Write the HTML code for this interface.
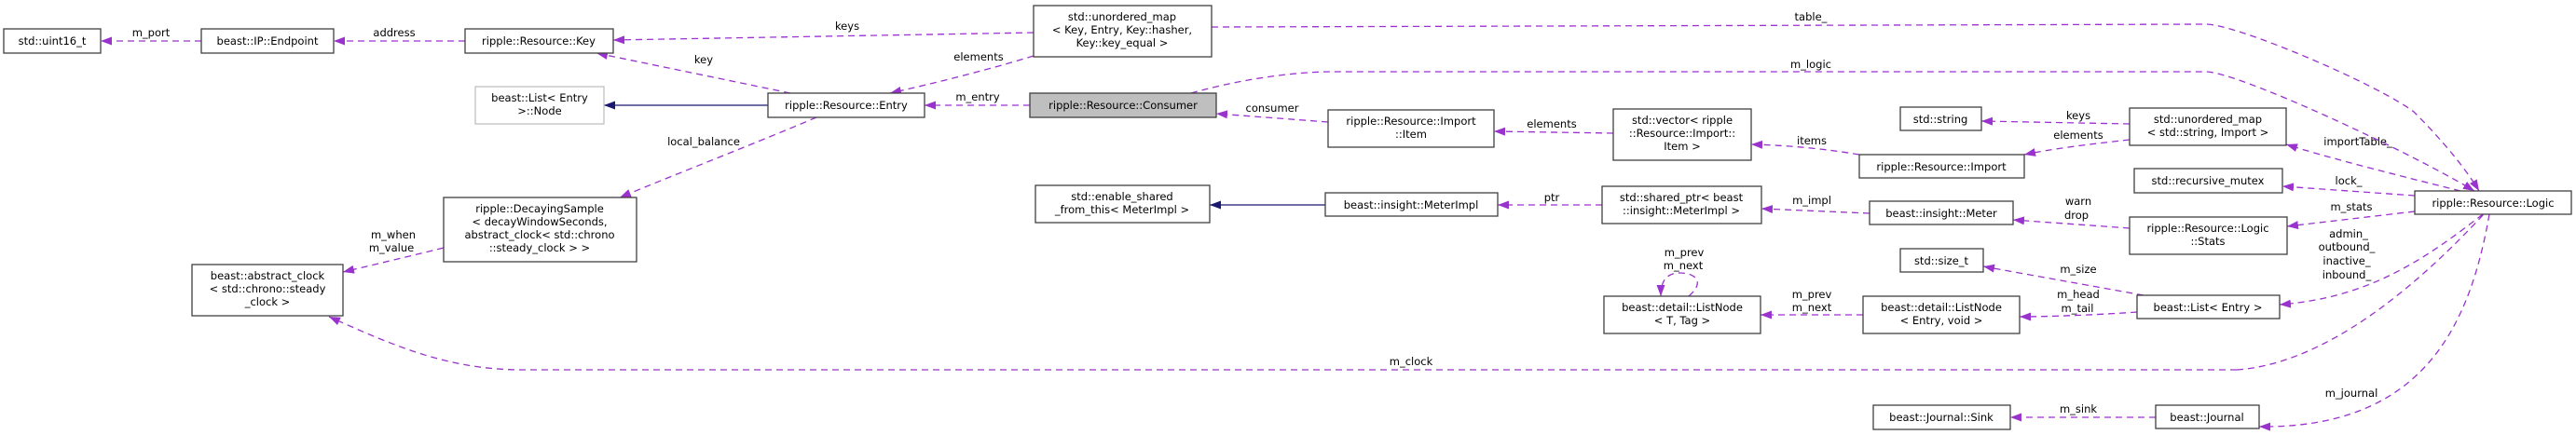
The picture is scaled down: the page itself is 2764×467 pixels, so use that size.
<!DOCTYPE html>
<html><head><meta charset="utf-8"><style>
html,body{margin:0;padding:0;background:#fff}
svg{display:block}
text{font-family:"DejaVu Sans","Liberation Sans",sans-serif;font-size:11.5px;fill:#000}
.n{fill:#fff;stroke:#404040;stroke-width:1.3}
.e{fill:none;stroke:#9a32cd;stroke-width:1.3;stroke-dasharray:7,5}
.b{fill:none;stroke:#191970;stroke-width:1.3}
</style></head><body>
<svg width="2764" height="467" viewBox="0 0 2764 467" xmlns="http://www.w3.org/2000/svg">
<defs>
<marker id="p" markerWidth="12" markerHeight="9" refX="12" refY="4.5" orient="auto" markerUnits="userSpaceOnUse"><path d="M0,0 L12,4.5 L0,9 Z" fill="#9a32cd"/></marker>
<marker id="bl" markerWidth="12" markerHeight="9" refX="12" refY="4.5" orient="auto" markerUnits="userSpaceOnUse"><path d="M0,0 L12,4.5 L0,9 Z" fill="#191970"/></marker>
</defs>

<path class="e" marker-end="url(#p)" d="M216,44 L108,44"/>
<text x="162" y="39" text-anchor="middle">m_port</text>
<path class="e" marker-end="url(#p)" d="M499,44 L358,44"/>
<text x="423" y="39" text-anchor="middle">address</text>
<path class="e" marker-end="url(#p)" d="M1109,35 L658,43"/>
<text x="909" y="32" text-anchor="middle">keys</text>
<path class="e" marker-end="url(#p)" d="M848,100 L640,57"/>
<text x="755" y="68" text-anchor="middle">key</text>
<path class="b" marker-end="url(#bl)" d="M824,113 L648,113"/>
<path class="e" marker-end="url(#p)" d="M876,126 C820,150 730,185 665,212"/>
<text x="755" y="156" text-anchor="middle">local_balance</text>
<path class="e" marker-end="url(#p)" d="M1109,60 C1060,75 1000,90 955,100"/>
<text x="1050" y="65" text-anchor="middle">elements</text>
<path class="e" marker-end="url(#p)" d="M1105,113 L992,113"/>
<text x="1049" y="108" text-anchor="middle">m_entry</text>
<path class="e" marker-end="url(#p)" d="M476,266 C440,275 410,282 368,292"/>
<text x="422" y="256" text-anchor="middle">m_when</text>
<text x="420" y="270" text-anchor="middle">m_value</text>
<path class="e" marker-end="url(#p)" d="M2400,397 C2500,390 2600,300 2665,230 M2400,397 L560,397 C480,397 420,370 353,340"/>
<text x="1514" y="392" text-anchor="middle">m_clock</text>
<path class="e" marker-end="url(#p)" d="M1425,131 L1305,122"/>
<text x="1365" y="120" text-anchor="middle">consumer</text>
<path class="e" marker-end="url(#p)" d="M1731,143 L1603,141"/>
<text x="1665" y="137" text-anchor="middle">elements</text>
<path class="e" marker-end="url(#p)" d="M1995,166 C1960,160 1920,156 1879,155"/>
<text x="1944" y="155" text-anchor="middle">items</text>
<path class="b" marker-end="url(#bl)" d="M1422,220 L1298,220"/>
<path class="e" marker-end="url(#p)" d="M1719,220 L1607,220"/>
<text x="1665" y="216" text-anchor="middle">ptr</text>
<path class="e" marker-end="url(#p)" d="M2006,229 L1890,224"/>
<text x="1944" y="219" text-anchor="middle">m_impl</text>
<path class="e" marker-end="url(#p)" d="M1812,318 C1835,298 1810,290 1795,294 C1785,297 1782,306 1782,318"/>
<text x="1807" y="275" text-anchor="middle">m_prev</text>
<text x="1806" y="289" text-anchor="middle">m_next</text>
<path class="e" marker-end="url(#p)" d="M1999,338 L1889,338"/>
<text x="1944" y="320" text-anchor="middle">m_prev</text>
<text x="1944" y="334" text-anchor="middle">m_next</text>
<path class="e" marker-end="url(#p)" d="M2285,133 L2126,130"/>
<text x="2230" y="128" text-anchor="middle">keys</text>
<path class="e" marker-end="url(#p)" d="M2285,150 C2240,155 2200,160 2172,166"/>
<text x="2230" y="149" text-anchor="middle">elements</text>
<path class="e" marker-end="url(#p)" d="M2640,205 C2580,190 2500,170 2453,155"/>
<text x="2530" y="156" text-anchor="middle">importTable_</text>
<path class="e" marker-end="url(#p)" d="M2591,210 L2449,200"/>
<text x="2520" y="198" text-anchor="middle">lock_</text>
<path class="e" marker-end="url(#p)" d="M2591,227 L2454,243"/>
<text x="2523" y="226" text-anchor="middle">m_stats</text>
<path class="e" marker-end="url(#p)" d="M2285,245 L2160,236"/>
<text x="2230" y="220" text-anchor="middle">warn</text>
<text x="2228" y="235" text-anchor="middle">drop</text>
<path class="e" marker-end="url(#p)" d="M2300,317 L2128,286"/>
<text x="2230" y="293" text-anchor="middle">m_size</text>
<path class="e" marker-end="url(#p)" d="M2293,335 C2250,338 2200,340 2167,340"/>
<text x="2230" y="320" text-anchor="middle">m_head</text>
<text x="2229" y="335" text-anchor="middle">m_tail</text>
<path class="e" marker-end="url(#p)" d="M2664,230 C2600,280 2540,320 2446,327"/>
<text x="2520" y="255" text-anchor="middle">admin_</text>
<text x="2518" y="269" text-anchor="middle">outbound_</text>
<text x="2518" y="284" text-anchor="middle">inactive_</text>
<text x="2518" y="299" text-anchor="middle">inbound_</text>
<path class="e" marker-end="url(#p)" d="M2671,230 C2650,350 2600,460 2424,458"/>
<text x="2523" y="426" text-anchor="middle">m_journal</text>
<path class="e" marker-end="url(#p)" d="M2313,448 L2157,448"/>
<text x="2230" y="443" text-anchor="middle">m_sink</text>
<path class="e" marker-end="url(#p)" d="M1300,29 L2367,26 C2400,26 2550,90 2590,120 C2620,150 2645,180 2660,205"/>
<text x="1943" y="22" text-anchor="middle">table_</text>
<path class="e" marker-end="url(#p)" d="M1278,100 C1320,88 1380,77 1430,77 L2367,77 C2400,77 2580,160 2655,205"/>
<text x="1943" y="73" text-anchor="middle">m_logic</text>

<rect class="n" x="4" y="31" width="104" height="26"/><text x="56" y="48" text-anchor="middle">std::uint16_t</text>
<rect class="n" x="216" y="31" width="142" height="26"/><text x="287" y="48" text-anchor="middle">beast::IP::Endpoint</text>
<rect class="n" x="499" y="31" width="159" height="26"/><text x="578" y="48" text-anchor="middle">ripple::Resource::Key</text>
<rect class="n" style="stroke:#bfbfbf" x="510" y="93" width="138" height="40"/><text x="579" y="109" text-anchor="middle">beast::List&lt; Entry</text><text x="579" y="123" text-anchor="middle">&gt;::Node</text>
<rect class="n" x="476" y="212" width="207" height="69"/><text x="579" y="228" text-anchor="middle">ripple::DecayingSample</text><text x="579" y="242" text-anchor="middle">&lt; decayWindowSeconds,</text><text x="579" y="256" text-anchor="middle">abstract_clock&lt; std::chrono</text><text x="579" y="270" text-anchor="middle">::steady_clock &gt; &gt;</text>
<rect class="n" x="206" y="284" width="162" height="55"/><text x="287" y="300" text-anchor="middle">beast::abstract_clock</text><text x="287" y="314" text-anchor="middle">&lt; std::chrono::steady</text><text x="287" y="328" text-anchor="middle">_clock &gt;</text>
<rect class="n" x="824" y="100" width="168" height="26"/><text x="908" y="117" text-anchor="middle">ripple::Resource::Entry</text>
<rect class="n" x="1109" y="6" width="191" height="55"/><text x="1204" y="22" text-anchor="middle">std::unordered_map</text><text x="1204" y="36" text-anchor="middle">&lt; Key, Entry, Key::hasher,</text><text x="1204" y="50" text-anchor="middle">Key::key_equal &gt;</text>
<rect class="n" style="fill:#bfbfbf" x="1105" y="100" width="200" height="26"/><text x="1205" y="117" text-anchor="middle">ripple::Resource::Consumer</text>
<rect class="n" x="1425" y="118" width="178" height="40"/><text x="1514" y="134" text-anchor="middle">ripple::Resource::Import</text><text x="1514" y="148" text-anchor="middle">::Item</text>
<rect class="n" x="1731" y="117" width="148" height="55"/><text x="1805" y="133" text-anchor="middle">std::vector&lt; ripple</text><text x="1805" y="147" text-anchor="middle">::Resource::Import::</text><text x="1805" y="161" text-anchor="middle">Item &gt;</text>
<rect class="n" x="1111" y="199" width="187" height="40"/><text x="1204" y="215" text-anchor="middle">std::enable_shared</text><text x="1204" y="229" text-anchor="middle">_from_this&lt; MeterImpl &gt;</text>
<rect class="n" x="1422" y="207" width="185" height="25"/><text x="1514" y="224" text-anchor="middle">beast::insight::MeterImpl</text>
<rect class="n" x="1719" y="200" width="171" height="40"/><text x="1804" y="216" text-anchor="middle">std::shared_ptr&lt; beast</text><text x="1804" y="230" text-anchor="middle">::insight::MeterImpl &gt;</text>
<rect class="n" x="1721" y="318" width="168" height="40"/><text x="1805" y="334" text-anchor="middle">beast::detail::ListNode</text><text x="1805" y="348" text-anchor="middle">&lt; T, Tag &gt;</text>
<rect class="n" x="2039" y="115" width="87" height="25"/><text x="2082" y="132" text-anchor="middle">std::string</text>
<rect class="n" x="2285" y="116" width="168" height="40"/><text x="2369" y="132" text-anchor="middle">std::unordered_map</text><text x="2369" y="146" text-anchor="middle">&lt; std::string, Import &gt;</text>
<rect class="n" x="1995" y="166" width="177" height="25"/><text x="2083" y="183" text-anchor="middle">ripple::Resource::Import</text>
<rect class="n" x="2290" y="181" width="159" height="26"/><text x="2369" y="198" text-anchor="middle">std::recursive_mutex</text>
<rect class="n" x="2591" y="205" width="168" height="25"/><text x="2675" y="222" text-anchor="middle">ripple::Resource::Logic</text>
<rect class="n" x="2006" y="216" width="154" height="25"/><text x="2083" y="233" text-anchor="middle">beast::insight::Meter</text>
<rect class="n" x="2285" y="233" width="169" height="40"/><text x="2369" y="249" text-anchor="middle">ripple::Resource::Logic</text><text x="2369" y="263" text-anchor="middle">::Stats</text>
<rect class="n" x="2039" y="267" width="89" height="25"/><text x="2083" y="284" text-anchor="middle">std::size_t</text>
<rect class="n" x="1999" y="318" width="168" height="40"/><text x="2083" y="334" text-anchor="middle">beast::detail::ListNode</text><text x="2083" y="348" text-anchor="middle">&lt; Entry, void &gt;</text>
<rect class="n" x="2293" y="317" width="153" height="25"/><text x="2369" y="334" text-anchor="middle">beast::List&lt; Entry &gt;</text>
<rect class="n" x="2010" y="435" width="147" height="26"/><text x="2083" y="452" text-anchor="middle">beast::Journal::Sink</text>
<rect class="n" x="2313" y="435" width="111" height="25"/><text x="2368" y="452" text-anchor="middle">beast::Journal</text>
</svg>
</body></html>
